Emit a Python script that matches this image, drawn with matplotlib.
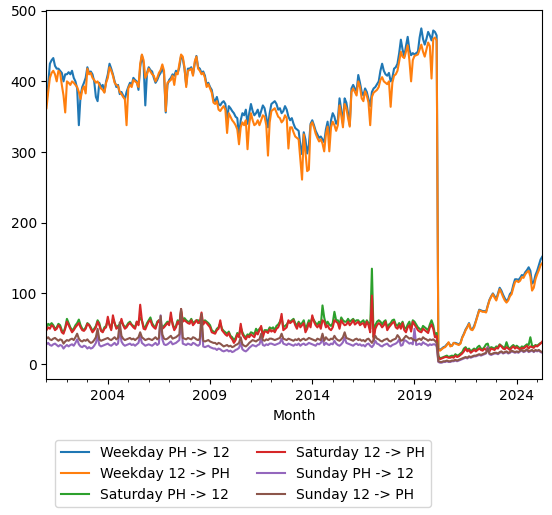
import matplotlib
matplotlib.use("Agg")
import matplotlib.pyplot as plt
import pandas as pd

# monthly passenger counts, Jan 2001 .. Apr 2025 (one row per year)
weekday_ph_12 = [
    370, 395, 425, 430, 433, 422, 418, 418, 415, 412, 400, 410,  # 2001
    410, 413, 410, 415, 405, 400, 390, 338, 380, 392, 398, 405,  # 2002
    420, 412, 414, 410, 400, 378, 372, 398, 392, 395, 385, 400,  # 2003
    410, 425, 418, 410, 400, 392, 395, 382, 385, 380, 375, 385,  # 2004
    392, 398, 395, 405, 402, 400, 388, 420, 437, 425, 366, 412,  # 2005
    420, 416, 414, 405, 398, 402, 408, 412, 420, 410, 356, 395,  # 2006
    402, 405, 410, 408, 415, 412, 420, 436, 432, 418, 395, 418,  # 2007
    418, 420, 410, 425, 436, 420, 418, 412, 414, 408, 395, 398,  # 2008
    392, 388, 375, 372, 378, 368, 366, 370, 372, 368, 345, 365,  # 2009
    362, 358, 355, 350, 348, 322, 345, 355, 352, 360, 340, 355,  # 2010
    368, 358, 352, 355, 360, 350, 358, 366, 362, 350, 335, 355,  # 2011
    368, 370, 372, 368, 360, 362, 355, 358, 365, 360, 350, 345,  # 2012
    348, 340, 334, 332, 330, 310, 297, 328, 318, 298, 310, 340,  # 2013
    345, 338, 330, 325, 320, 322, 318, 314, 332, 343, 320, 345,  # 2014
    355, 350, 340, 345, 376, 360, 340, 376, 370, 355, 338, 390,  # 2015
    395, 390, 386, 409, 398, 385, 380, 390, 385, 375, 365, 385,  # 2016
    390, 392, 396, 400, 415, 425, 415, 410, 408, 412, 400, 405,  # 2017
    418, 420, 425, 440, 459, 445, 435, 450, 463, 445, 437, 440,  # 2018
    438, 440, 442, 462, 475, 460, 452, 460, 470, 465, 458, 472,  # 2019
    470, 465, 22, 20, 22, 24, 25, 28, 30, 27, 26, 30,  # 2020
    30, 29, 28, 30, 38, 43, 49, 53, 58, 50, 49, 54,  # 2021
    61, 69, 77, 76, 75, 75, 74, 83, 91, 96, 100, 96,  # 2022
    92, 100, 108, 104, 98, 93, 89, 92, 99, 102, 112, 120,  # 2023
    120, 119, 122, 126, 125, 130, 133, 137, 132, 114, 116, 126,  # 2024
    132, 140, 148, 152,  # 2025
]
weekday_12_ph = [
    362, 385, 405, 412, 415, 410, 400, 415, 412, 395, 380, 356,
    400, 398, 395, 400, 398, 395, 392, 385, 375, 388, 393, 383,
    418, 410, 412, 405, 402, 398, 400, 395, 390, 388, 384, 398,
    405, 420, 415, 408, 398, 395, 393, 385, 382, 378, 375, 338,
    390, 395, 392, 402, 400, 398, 392, 425, 438, 430, 405, 410,
    418, 414, 410, 408, 400, 405, 412, 416, 424, 415, 358, 398,
    400, 402, 408, 395, 412, 410, 425, 438, 435, 420, 392, 415,
    416, 418, 408, 428, 435, 418, 415, 410, 412, 405, 392, 396,
    390, 384, 370, 368, 372, 360, 358, 362, 365, 360, 327, 355,
    350, 345, 342, 338, 332, 311, 335, 342, 338, 345, 304, 340,
    355, 345, 338, 340, 345, 338, 345, 352, 350, 338, 295, 342,
    358, 360, 362, 356, 350, 348, 342, 345, 352, 348, 305, 335,
    335, 328, 322, 320, 318, 290, 261, 325, 300, 273, 275, 338,
    342, 335, 326, 320, 315, 318, 312, 301, 325, 336, 301, 335,
    343, 338, 330, 338, 366, 352, 335, 368, 362, 348, 336, 385,
    390, 385, 380, 400, 392, 376, 372, 386, 380, 370, 338, 378,
    384, 386, 388, 392, 402, 406, 400, 398, 396, 400, 364, 398,
    408, 410, 415, 428, 442, 435, 433, 442, 451, 430, 400, 430,
    436, 437, 438, 445, 452, 442, 435, 445, 455, 450, 404, 460,
    462, 458, 20, 19, 21, 23, 24, 27, 31, 25, 26, 30,
    29, 28, 27, 29, 37, 42, 48, 52, 57, 49, 48, 52,
    60, 68, 76, 75, 74, 74, 73, 82, 90, 95, 99, 94,
    90, 98, 106, 101, 95, 90, 87, 90, 96, 99, 108, 116,
    118, 116, 118, 123, 122, 127, 130, 132, 124, 104, 108, 120,
    127, 133, 140, 143,
]
saturday_ph_12 = [
    52, 57, 55, 58, 55, 50, 52, 57, 55, 48, 45, 52,
    64, 58, 52, 48, 50, 55, 58, 63, 55, 50, 48, 52,
    58, 56, 52, 47, 50, 54, 62, 58, 48, 46, 52, 54,
    62, 56, 50, 64, 58, 52, 54, 56, 60, 56, 52, 54,
    58, 60, 56, 54, 52, 60, 58, 66, 62, 53, 52, 58,
    62, 66, 58, 54, 52, 60, 62, 58, 52, 54, 57, 60,
    58, 66, 58, 50, 54, 62, 58, 75, 62, 65, 62, 60,
    60, 64, 58, 60, 62, 62, 58, 66, 58, 62, 60, 58,
    55, 48, 46, 45, 50, 52, 58, 50, 47, 45, 43, 46,
    40, 38, 34, 37, 44, 40, 52, 45, 40, 38, 42, 41,
    45, 44, 42, 50, 46, 50, 52, 42, 48, 48, 47, 52,
    50, 52, 48, 54, 56, 60, 66, 52, 54, 56, 60, 60,
    62, 64, 58, 54, 60, 56, 58, 62, 50, 55, 62, 58,
    66, 62, 58, 56, 60, 54, 83, 66, 56, 60, 56, 54,
    58, 74, 62, 62, 56, 66, 62, 60, 60, 64, 60, 62,
    64, 60, 62, 62, 58, 60, 62, 56, 62, 58, 50, 135,
    38, 55, 60, 62, 60, 56, 60, 62, 52, 56, 58, 62,
    63, 56, 54, 58, 55, 60, 52, 50, 56, 60, 50, 62,
    60, 56, 52, 50, 48, 54, 52, 50, 48, 56, 62, 55,
    42, 44, 12, 8, 9, 10, 11, 12, 10, 11, 12, 11,
    14, 12, 13, 15, 17, 22, 24, 20, 22, 18, 20, 22,
    20, 24, 26, 22, 21, 24, 28, 29, 20, 24, 23, 22,
    25, 24, 28, 26, 24, 23, 31, 24, 22, 25, 27, 24,
    26, 24, 22, 25, 24, 26, 28, 27, 38, 26, 25, 27,
    26, 28, 30, 30,
]
saturday_12_ph = [
    48, 52, 50, 55, 53, 48, 50, 55, 52, 45, 43, 50,
    60, 55, 50, 45, 48, 52, 55, 58, 52, 48, 47, 50,
    57, 55, 50, 45, 48, 52, 60, 55, 47, 45, 50, 52,
    67, 55, 48, 69, 58, 50, 52, 54, 64, 55, 50, 52,
    56, 58, 55, 52, 50, 60, 55, 84, 62, 50, 49, 55,
    60, 62, 55, 52, 50, 58, 62, 55, 50, 52, 55, 58,
    55, 73, 56, 48, 52, 60, 56, 78, 60, 62, 60, 58,
    57, 62, 55, 58, 62, 58, 60, 73, 56, 60, 58, 55,
    52, 45, 44, 43, 48, 50, 62, 48, 45, 42, 40, 44,
    38, 35, 30, 34, 42, 38, 57, 42, 38, 35, 40, 38,
    42, 40, 38, 45, 42, 48, 54, 38, 46, 46, 44, 49,
    46, 48, 45, 50, 52, 58, 71, 48, 50, 52, 62, 58,
    60, 62, 55, 50, 58, 52, 55, 58, 45, 50, 58, 52,
    69, 60, 55, 52, 56, 50, 62, 60, 52, 55, 50, 48,
    52, 62, 60, 58, 50, 62, 58, 55, 56, 60, 55, 58,
    62, 56, 58, 60, 55, 57, 58, 52, 60, 55, 45, 97,
    34, 50, 55, 58, 56, 52, 55, 60, 48, 52, 55, 58,
    60, 52, 50, 55, 50, 58, 48, 45, 52, 55, 46, 60,
    56, 52, 48, 46, 45, 50, 48, 46, 44, 52, 56, 50,
    38, 40, 10, 7, 8, 9, 10, 10, 9, 9, 10, 9,
    12, 10, 11, 13, 15, 18, 22, 18, 20, 16, 18, 20,
    18, 20, 22, 20, 19, 22, 20, 24, 18, 22, 21, 20,
    23, 22, 27, 25, 22, 21, 24, 22, 20, 23, 25, 22,
    24, 22, 21, 23, 22, 24, 26, 22, 25, 24, 23, 26,
    25, 27, 29, 32,
]
sunday_ph_12 = [
    28, 30, 27, 26, 28, 29, 27, 25, 27, 26, 22, 25,
    27, 25, 27, 28, 26, 30, 35, 28, 25, 24, 26, 25,
    22, 24, 22, 23, 26, 30, 40, 27, 25, 26, 27, 28,
    29, 27, 26, 28, 30, 27, 29, 50, 32, 28, 26, 27,
    28, 29, 27, 28, 26, 28, 30, 40, 30, 28, 26, 27,
    28, 27, 26, 28, 30, 27, 29, 69, 35, 28, 27, 28,
    30, 32, 28, 29, 30, 32, 34, 65, 29, 28, 27, 29,
    28, 27, 30, 29, 27, 26, 28, 60, 25, 24, 25, 26,
    24, 23, 22, 22, 20, 22, 21, 19, 18, 19, 20, 18,
    19, 17, 18, 20, 21, 23, 30, 21, 19, 18, 20, 23,
    25, 27, 26, 25, 27, 28, 36, 27, 26, 28, 27, 29,
    29, 28, 27, 28, 29, 30, 36, 29, 28, 27, 29, 28,
    27, 26, 28, 27, 29, 26, 28, 29, 27, 28, 30, 29,
    28, 27, 26, 29, 28, 30, 36, 27, 30, 28, 27, 29,
    28, 33, 29, 27, 26, 28, 31, 38, 30, 29, 28, 27,
    26, 28, 29, 27, 28, 26, 27, 25, 28, 29, 26, 24,
    27, 33, 29, 28, 26, 25, 27, 28, 29, 26, 25, 27,
    28, 29, 31, 35, 26, 27, 34, 33, 31, 29, 30, 28,
    50, 27, 28, 29, 27, 31, 29, 28, 26, 28, 27, 28,
    28, 25, 3, 2, 2, 3, 3, 4, 3, 3, 4, 4,
    5, 4, 5, 6, 7, 8, 9, 8, 10, 9, 10, 11,
    11, 12, 13, 12, 13, 14, 15, 24, 14, 13, 14, 15,
    15, 14, 16, 17, 15, 16, 17, 15, 16, 18, 17, 16,
    17, 16, 18, 19, 17, 18, 20, 17, 18, 19, 17, 19,
    18, 19, 17, 16,
]
sunday_12_ph = [
    36, 38, 35, 34, 36, 37, 35, 33, 35, 34, 29, 32,
    34, 33, 35, 36, 34, 38, 43, 36, 33, 32, 34, 33,
    35, 32, 30, 31, 34, 38, 50, 35, 33, 34, 35, 36,
    37, 35, 34, 36, 38, 35, 37, 59, 40, 36, 34, 35,
    36, 37, 35, 36, 34, 36, 38, 45, 38, 36, 34, 35,
    36, 35, 34, 36, 38, 35, 37, 68, 42, 36, 35, 36,
    38, 40, 36, 37, 38, 40, 42, 78, 37, 36, 35, 37,
    36, 35, 38, 37, 35, 34, 36, 71, 33, 32, 33, 34,
    32, 31, 30, 30, 28, 30, 29, 27, 25, 26, 27, 25,
    26, 24, 25, 27, 28, 30, 38, 28, 26, 25, 27, 30,
    32, 34, 33, 32, 34, 35, 43, 34, 33, 35, 34, 36,
    36, 35, 34, 35, 36, 37, 43, 36, 35, 34, 36, 35,
    34, 33, 35, 34, 36, 33, 35, 36, 34, 35, 37, 36,
    35, 34, 33, 36, 35, 34, 43, 33, 38, 35, 34, 36,
    35, 40, 36, 34, 33, 35, 38, 45, 37, 36, 35, 34,
    33, 35, 36, 34, 35, 33, 34, 32, 35, 36, 33, 30,
    34, 40, 36, 35, 33, 32, 34, 35, 36, 33, 32, 34,
    35, 36, 41, 38, 33, 34, 37, 40, 38, 36, 37, 35,
    34, 33, 35, 36, 34, 38, 36, 35, 33, 35, 34, 35,
    33, 30, 4, 3, 3, 4, 4, 5, 4, 4, 5, 5,
    6, 5, 6, 7, 8, 9, 10, 9, 11, 10, 11, 12,
    12, 13, 14, 13, 14, 15, 16, 22, 15, 14, 15, 16,
    16, 15, 17, 18, 16, 17, 18, 16, 17, 19, 18, 17,
    18, 17, 19, 20, 18, 19, 21, 18, 19, 20, 18, 20,
    19, 20, 18, 17,
]

labels = ["Weekday PH -> 12", "Weekday 12 -> PH", "Saturday PH -> 12",
          "Saturday 12 -> PH", "Sunday PH -> 12", "Sunday 12 -> PH"]
series = [weekday_ph_12, weekday_12_ph, saturday_ph_12,
          saturday_12_ph, sunday_ph_12, sunday_12_ph]

months = pd.date_range("2001-01-01", periods=len(weekday_ph_12), freq="MS")
df = pd.DataFrame(dict(zip(labels, series)), index=months)
df.index.name = "Month"

fig = plt.figure(figsize=(5.52, 5.15), dpi=100)
ax = fig.add_axes([0.0842, 0.2635, 0.8982, 0.7171])
df.plot(ax=ax, legend=False)
ax.set_ylim(-21.5, 501)
ax.legend(loc="upper left", bbox_to_anchor=(0.0875, 0.159),
          bbox_transform=fig.transFigure, ncol=2)

fig.savefig("out.png", dpi=100)
